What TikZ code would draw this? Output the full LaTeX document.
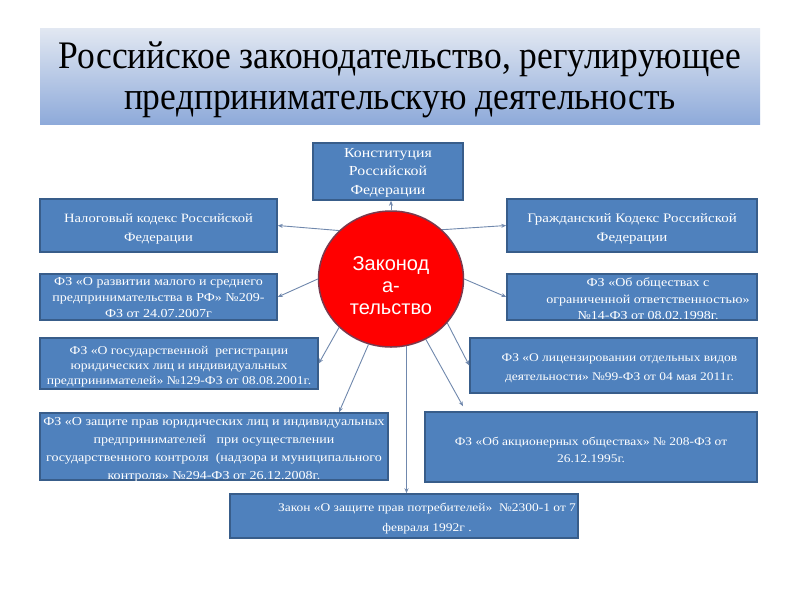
\documentclass[tikz,border=0pt]{standalone}
\usepackage{fontspec}
\setmainfont{Liberation Serif}
\newfontfamily\circfont{Liberation Sans}
\newfontfamily\widefont[FakeStretch=1.15]{Liberation Serif}
\newfontfamily\titlefont[FakeStretch=0.91]{Liberation Serif}
\usetikzlibrary{shapes.geometric,arrows.meta}
\definecolor{boxblue}{HTML}{4F81BD}
\definecolor{boxline}{HTML}{385D8A}
\definecolor{conn}{HTML}{7088AD}
\definecolor{circred}{HTML}{FF0000}
\definecolor{circline}{HTML}{7A3A4E}
\definecolor{titletop}{HTML}{E2E8F2}
\definecolor{titlebot}{HTML}{8EAADA}
\tikzset{
  lawbox/.style={draw=boxline, fill=boxblue, line width=1.5pt, inner sep=0pt, anchor=center},
  lawtext/.style={text=white, align=center, inner sep=0pt, yshift=-3pt},
  conn/.style={draw=conn, line width=0.9pt, -{Stealth[length=5pt,width=4pt]}},
}
\begin{document}
\begin{tikzpicture}[x=1pt,y=-1pt]
\useasboundingbox (0,0) rectangle (800,600);
\fill[white] (0,0) rectangle (800,600);
% title
\node[top color=titletop, bottom color=titlebot, minimum width=720pt, minimum height=96pt,
  inner sep=0pt,
  label={[align=center, inner sep=0pt, yshift=-4pt, font=\titlefont\fontsize{39}{41}\selectfont]center:{Российское законодательство, регулирующее\\предпринимательскую деятельность}}]
  (title) at (400,76) {};
% boxes
\node[lawbox, minimum width=150pt, minimum height=57pt,
  label={[lawtext, yshift=2pt, font=\widefont\fontsize{13.8}{18.5}\selectfont]center:{Конституция\\Российской\\Федерации}}]
  (const) at (388,171.5) {};
\node[lawbox, minimum width=237pt, minimum height=53pt,
  label={[lawtext, font=\widefont\fontsize{12.7}{19}\selectfont]center:{Налоговый кодекс Российской\\Федерации}}]
  (nalog) at (158.5,225.5) {};
\node[lawbox, minimum width=237pt, minimum height=46pt,
  label={[lawtext, yshift=2pt, font=\widefont\fontsize{12.2}{16}\selectfont]center:{ФЗ «О развитии малого и среднего\\предпринимательства в РФ» №209-\\ФЗ от 24.07.2007г}}]
  (fz209) at (158.5,297) {};
\node[lawbox, minimum width=278pt, minimum height=51pt,
  label={[lawtext, font=\widefont\fontsize{11.9}{15}\selectfont]center:{ФЗ «О государственной\ \ регистрации\\юридических лиц и индивидуальных\\предпринимателей» №129-ФЗ от 08.08.2001г.}}]
  (fz129) at (179,363.5) {};
\node[lawbox, minimum width=348pt, minimum height=67pt,
  label={[lawtext, font=\widefont\fontsize{12.2}{18}\selectfont]center:{ФЗ «О защите прав юридических лиц и индивидуальных\\предпринимателей\ \ \ при осуществлении\\государственного контроля\ \ (надзора и муниципального\\контроля» №294-ФЗ от 26.12.2008г.}}]
  (fz294) at (214,446.5) {};
\node[lawbox, minimum width=250pt, minimum height=53pt,
  label={[lawtext, font=\widefont\fontsize{13}{19}\selectfont]center:{Гражданский Кодекс Российской\\Федерации}}]
  (civil) at (632,225.5) {};
\node[lawbox, minimum width=250pt, minimum height=46pt,
  label={[lawtext, yshift=1pt, xshift=16pt, font=\widefont\fontsize{12.2}{16.5}\selectfont]center:{ФЗ «Об обществах с\\ограниченной ответственностью»\\№14-ФЗ от 08.02.1998г.}}]
  (fz14) at (632,297) {};
\node[lawbox, minimum width=287pt, minimum height=55pt,
  label={[lawtext, xshift=6pt, font=\widefont\fontsize{11.7}{19}\selectfont]center:{ФЗ «О лицензировании отдельных видов\\деятельности» №99-ФЗ от 04 мая 2011г.}}]
  (fz99) at (613.5,365.5) {};
\node[lawbox, minimum width=332pt, minimum height=70pt,
  label={[lawtext, font=\widefont\fontsize{11.7}{17.5}\selectfont]center:{ФЗ «Об акционерных обществах» № 208-ФЗ от\\26.12.1995г.}}]
  (fz208) at (591,447) {};
\node[lawbox, minimum width=348pt, minimum height=44pt,
  label={[lawtext, xshift=23pt, font=\widefont\fontsize{11.7}{20}\selectfont]center:{Закон «О защите прав потребителей»\ \ №2300-1 от 7\\февраля 1992г .}}]
  (zakon) at (404,516) {};
% centre
\node[ellipse, draw=circline, fill=circred, line width=1.5pt, minimum width=145pt, minimum height=136pt,
  inner sep=0pt,
  label={[text=white, align=center, inner sep=0pt, yshift=-7pt, font=\circfont\fontsize{20}{22}\selectfont]center:{Законод\\а-\\тельство}}]
  (circ) at (391,279) {};
% connectors
\draw[conn] (circ.north) -- (circ.north |- const.south);
\draw[conn] (circ.137) -- (nalog.east);
\draw[conn] (circ.180) -- (fz209.east);
\draw[conn] (circ.44) -- (civil.west);
\draw[conn] (circ.0) -- (fz14.west);
\draw[conn] (circ.223) -- (fz129.east);
\draw[conn] (circ.251) -- ([xshift=125pt]fz294.north);
\draw[conn] (circ.283) -- (circ.283 |- zakon.north);
\draw[conn] (circ.300) -- ([xshift=-128pt,yshift=5pt]fz208.north);
\draw[conn] (circ.322) -- (fz99.west);
\end{tikzpicture}
\end{document}
